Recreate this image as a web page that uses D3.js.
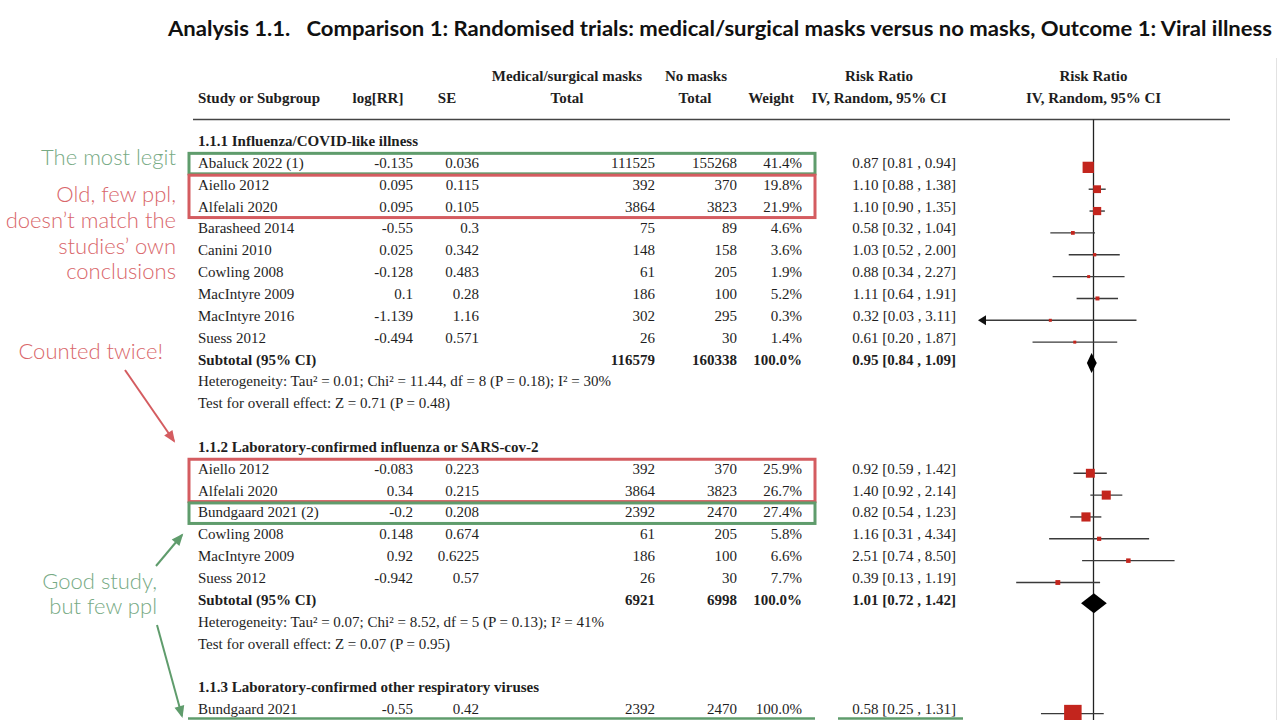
<!DOCTYPE html>
<html>
<head>
<meta charset="utf-8">
<script src="https://cdn.jsdelivr.net/npm/d3@7"></script>
<style>
  html, body { margin: 0; padding: 0; background: #fff; }
  svg { display: block; }
</style>
</head>
<body>
<svg id="chart" width="1280" height="720"></svg>
<script>
// ---------- DATA ----------
const titleText = "Analysis 1.1.   Comparison 1: Randomised trials: medical/surgical masks versus no masks, Outcome 1: Viral illness";

const group1Title = "1.1.1 Influenza/COVID-like illness";
const studies1 = ["Abaluck 2022 (1)", "Aiello 2012", "Alfelali 2020", "Barasheed 2014", "Canini 2010", "Cowling 2008", "MacIntyre 2009", "MacIntyre 2016", "Suess 2012"];
const logRR1 = [-0.135, 0.095, 0.095, -0.55, 0.025, -0.128, 0.1, -1.139, -0.494];
const se1 = [0.036, 0.115, 0.105, 0.3, 0.342, 0.483, 0.28, 1.16, 0.571];
const masks1 = [111525, 392, 3864, 75, 148, 61, 186, 302, 26];
const noMasks1 = [155268, 370, 3823, 89, 158, 205, 100, 295, 30];
const weight1 = [41.4, 19.8, 21.9, 4.6, 3.6, 1.9, 5.2, 0.3, 1.4];
const rr1 = [0.87, 1.10, 1.10, 0.58, 1.03, 0.88, 1.11, 0.32, 0.61];
const lo1 = [0.81, 0.88, 0.90, 0.32, 0.52, 0.34, 0.64, 0.03, 0.20];
const hi1 = [0.94, 1.38, 1.35, 1.04, 2.00, 2.27, 1.91, 3.11, 1.87];
const subtotal1 = { masks: 116579, noMasks: 160338, weight: 100.0, rr: 0.95, lo: 0.84, hi: 1.09 };
const het1 = "Heterogeneity: Tau² = 0.01; Chi² = 11.44, df = 8 (P = 0.18); I² = 30%";
const test1 = "Test for overall effect: Z = 0.71 (P = 0.48)";

const group2Title = "1.1.2 Laboratory-confirmed influenza or SARS-cov-2";
const studies2 = ["Aiello 2012", "Alfelali 2020", "Bundgaard 2021 (2)", "Cowling 2008", "MacIntyre 2009", "Suess 2012"];
const logRR2 = [-0.083, 0.34, -0.2, 0.148, 0.92, -0.942];
const se2 = [0.223, 0.215, 0.208, 0.674, 0.6225, 0.57];
const masks2 = [392, 3864, 2392, 61, 186, 26];
const noMasks2 = [370, 3823, 2470, 205, 100, 30];
const weight2 = [25.9, 26.7, 27.4, 5.8, 6.6, 7.7];
const rr2 = [0.92, 1.40, 0.82, 1.16, 2.51, 0.39];
const lo2 = [0.59, 0.92, 0.54, 0.31, 0.74, 0.13];
const hi2 = [1.42, 2.14, 1.23, 4.34, 8.50, 1.19];
const subtotal2 = { masks: 6921, noMasks: 6998, weight: 100.0, rr: 1.01, lo: 0.72, hi: 1.42 };
const het2 = "Heterogeneity: Tau² = 0.07; Chi² = 8.52, df = 5 (P = 0.13); I² = 41%";
const test2 = "Test for overall effect: Z = 0.07 (P = 0.95)";

const group3Title = "1.1.3 Laboratory-confirmed other respiratory viruses";
const studies3 = ["Bundgaard 2021"];
const logRR3 = [-0.55];
const se3 = [0.42];
const masks3 = [2392];
const noMasks3 = [2470];
const weight3 = [100.0];
const rr3 = [0.58];
const lo3 = [0.25];
const hi3 = [1.31];

const noteGreen1 = ["The most legit"];
const noteRed1 = ["Old, few ppl,", "doesn’t match the", "studies’ own", "conclusions"];
const noteRed2 = ["Counted twice!"];
const noteGreen2 = ["Good study,", "but few ppl"];

// ---------- BUILD ROWS ----------
const rows = [];
function addGroup(title, st, lr, se, m, nm, w, rr, lo, hi, sub, het, test) {
  rows.push({ type: "header", text: title });
  st.forEach((s, i) => rows.push({ type: "study", name: s, logRR: lr[i], se: se[i], masks: m[i], noMasks: nm[i], weight: w[i], rr: rr[i], lo: lo[i], hi: hi[i] }));
  if (sub) {
    rows.push(Object.assign({ type: "subtotal", name: "Subtotal (95% CI)" }, sub));
    rows.push({ type: "note", text: het });
    rows.push({ type: "note", text: test });
    rows.push({ type: "blank" });
  }
}
addGroup(group1Title, studies1, logRR1, se1, masks1, noMasks1, weight1, rr1, lo1, hi1, subtotal1, het1, test1);
addGroup(group2Title, studies2, logRR2, se2, masks2, noMasks2, weight2, rr2, lo2, hi2, subtotal2, het2, test2);
addGroup(group3Title, studies3, logRR3, se3, masks3, noMasks3, weight3, rr3, lo3, hi3, null);
rows.forEach((r, i) => r.idx = i);

// ---------- LAYOUT ----------
const svg = d3.select("#chart");
const serif = "'Liberation Serif', 'Times New Roman', serif";
const textCol = "#1e1e1e";
const fs = 15;

const y = d3.scaleLinear().domain([0, 26]).range([141, 709.1]);   // text centre of each row
const x = d3.scaleLog().domain([0.05, 20]).range([980, 1207]);
const boxSize = d3.scaleSqrt().domain([0, 100]).range([0, 17.5]);

const col = { name: 198, logRR: 413, se: 479, masks: 655, noMasks: 737, weight: 802 };

// Title
svg.append("text")
  .attr("x", 168).attr("y", 36)
  .attr("xml:space", "preserve").style("white-space", "pre")
  .attr("textLength", 1104).attr("lengthAdjust", "spacingAndGlyphs")
  .style("font-family", "Lato, 'Open Sans', sans-serif")
  .style("font-weight", 700).style("font-size", "21px").attr("fill", "#111")
  .text(titleText);

// Column headers
const hdr = svg.append("g").style("font-family", serif).style("font-weight", 700).style("font-size", fs + "px").attr("fill", textCol);
const h1 = 81, h2 = 103;
hdr.append("text").attr("x", col.name).attr("y", h2).text("Study or Subgroup");
hdr.append("text").attr("x", 378).attr("y", h2).attr("text-anchor", "middle").text("log[RR]");
hdr.append("text").attr("x", 447).attr("y", h2).attr("text-anchor", "middle").text("SE");
hdr.append("text").attr("x", 567).attr("y", h1).attr("text-anchor", "middle").text("Medical/surgical masks");
hdr.append("text").attr("x", 567).attr("y", h2).attr("text-anchor", "middle").text("Total");
hdr.append("text").attr("x", 696).attr("y", h1).attr("text-anchor", "middle").text("No masks");
hdr.append("text").attr("x", 695).attr("y", h2).attr("text-anchor", "middle").text("Total");
hdr.append("text").attr("x", 794).attr("y", h2).attr("text-anchor", "end").text("Weight");
hdr.append("text").attr("x", 879).attr("y", h1).attr("text-anchor", "middle").text("Risk Ratio");
hdr.append("text").attr("x", 879).attr("y", h2).attr("text-anchor", "middle").text("IV, Random, 95% CI");
hdr.append("text").attr("x", x(1)).attr("y", h1).attr("text-anchor", "middle").text("Risk Ratio");
hdr.append("text").attr("x", x(1)).attr("y", h2).attr("text-anchor", "middle").text("IV, Random, 95% CI");

// header rule
svg.append("line").attr("x1", 193).attr("x2", 1230).attr("y1", 119.5).attr("y2", 119.5)
  .attr("stroke", "#444").attr("stroke-width", 1.5);
// faint right border
svg.append("line").attr("x1", 1276.5).attr("x2", 1276.5).attr("y1", 58).attr("y2", 720)
  .attr("stroke", "#e2e2e2").attr("stroke-width", 1);

// null line
svg.append("line").attr("x1", x(1)).attr("x2", x(1)).attr("y1", 119.5).attr("y2", 720)
  .attr("stroke", "#222").attr("stroke-width", 1.3);

// table rows
const fmtRR = d => `${d.rr.toFixed(2)} [${d.lo.toFixed(2)} , ${d.hi.toFixed(2)}]`;
const tg = svg.append("g").style("font-family", serif).style("font-size", fs + "px").attr("fill", textCol);
rows.forEach(r => {
  const yb = y(r.idx) + 5;
  if (r.type === "header") {
    tg.append("text").attr("x", col.name).attr("y", yb).style("font-weight", 700).text(r.text);
  } else if (r.type === "note") {
    tg.append("text").attr("x", col.name).attr("y", yb).text(r.text);
  } else if (r.type === "study" || r.type === "subtotal") {
    const g = tg.append("g").style("font-weight", r.type === "subtotal" ? 700 : 400);
    g.append("text").attr("x", col.name).attr("y", yb).text(r.name);
    if (r.type === "study") {
      g.append("text").attr("x", col.logRR).attr("y", yb).attr("text-anchor", "end").text(String(r.logRR));
      g.append("text").attr("x", col.se).attr("y", yb).attr("text-anchor", "end").text(String(r.se));
    }
    g.append("text").attr("x", col.masks).attr("y", yb).attr("text-anchor", "end").text(String(r.masks));
    g.append("text").attr("x", col.noMasks).attr("y", yb).attr("text-anchor", "end").text(String(r.noMasks));
    g.append("text").attr("x", col.weight).attr("y", yb).attr("text-anchor", "end").text(r.weight.toFixed(1) + "%");
    g.append("text").attr("x", 956).attr("y", yb).attr("text-anchor", "end").text(fmtRR(r));
  }
});

// forest plot marks
const pg = svg.append("g");
const [dMin, dMax] = x.domain();
rows.filter(r => r.type === "study").forEach(r => {
  const yc = y(r.idx) + 4.5;
  const l = Math.max(r.lo, dMin), h = Math.min(r.hi, dMax);
  pg.append("line").attr("x1", x(l)).attr("x2", x(h)).attr("y1", yc).attr("y2", yc)
    .attr("stroke", "#3a3a3a").attr("stroke-width", 1.4);
  if (r.lo < dMin) {
    pg.append("path").attr("d", `M${x(dMin) - 2},${yc} L${x(dMin) + 6},${yc - 5} L${x(dMin) + 6},${yc + 5} Z`).attr("fill", "#111");
  }
  const s = Math.max(3, boxSize(r.weight));
  pg.append("rect").attr("x", x(r.rr) - s / 2).attr("y", yc - s / 2).attr("width", s).attr("height", s)
    .attr("fill", "#c3251d");
});
rows.filter(r => r.type === "subtotal").forEach(r => {
  const yc = y(r.idx) + 3.5;
  pg.append("path")
    .attr("d", `M${x(r.lo)},${yc} L${x(r.rr)},${yc - 10} L${x(r.hi)},${yc} L${x(r.rr)},${yc + 10} Z`)
    .attr("fill", "#000");
});

// ---------- ANNOTATIONS ----------
const green = "#5f9c6c", greenTxt = "#77aa84", red = "#d45c60", redTxt = "#d9676b";
const ann = svg.append("g");
const boxX1 = 189, boxX2 = 815;
function annBox(r0, r1, color) {
  ann.append("rect").attr("x", boxX1).attr("y", y(r0) - 9.5).attr("width", boxX2 - boxX1)
    .attr("height", y(r1) - y(r0) + 20.5).attr("fill", "none").attr("stroke", color).attr("stroke-width", 3);
}
annBox(1, 1, green);
annBox(2, 3, red);
annBox(15, 16, red);
annBox(17, 17, green);
// underline on 1.1.3 row
ann.append("line").attr("x1", 188).attr("x2", 815).attr("y1", 718.5).attr("y2", 718.5).attr("stroke", green).attr("stroke-width", 2.5);
ann.append("line").attr("x1", 838).attr("x2", 963).attr("y1", 718.5).attr("y2", 718.5).attr("stroke", green).attr("stroke-width", 2.5);

const sans = "Lato, 'Liberation Sans', sans-serif";
function noteLines(lines, xr, y0, dy, color) {
  lines.forEach((t, i) => ann.append("text").attr("x", xr).attr("y", y0 + i * dy).attr("text-anchor", "end")
    .style("font-family", sans).style("font-weight", 300).style("font-size", "22px").attr("fill", color).text(t));
}
noteLines(noteGreen1, 176, 165, 0, greenTxt);
noteLines(noteRed1, 176, 202, 25.8, redTxt);
noteLines(noteRed2, 163, 359, 0, redTxt);
noteLines(noteGreen2, 157, 589, 25, greenTxt);

function arrow(x1, y1, x2, y2, color) {
  ann.append("line").attr("x1", x1).attr("y1", y1).attr("x2", x2).attr("y2", y2)
    .attr("stroke", color).attr("stroke-width", 2);
  const a = Math.atan2(y2 - y1, x2 - x1), L = 10, W = 5;
  const bx = x2 - L * Math.cos(a), by = y2 - L * Math.sin(a);
  const px = -Math.sin(a) * W, py = Math.cos(a) * W;
  ann.append("path").attr("d", `M${x2 + 2 * Math.cos(a)},${y2 + 2 * Math.sin(a)} L${bx + px},${by + py} L${bx - px},${by - py} Z`).attr("fill", color);
}
arrow(125, 370, 174, 441, red);
arrow(156, 566, 182, 535, green);
arrow(157, 625, 182, 716, green);
</script>
</body>
</html>
